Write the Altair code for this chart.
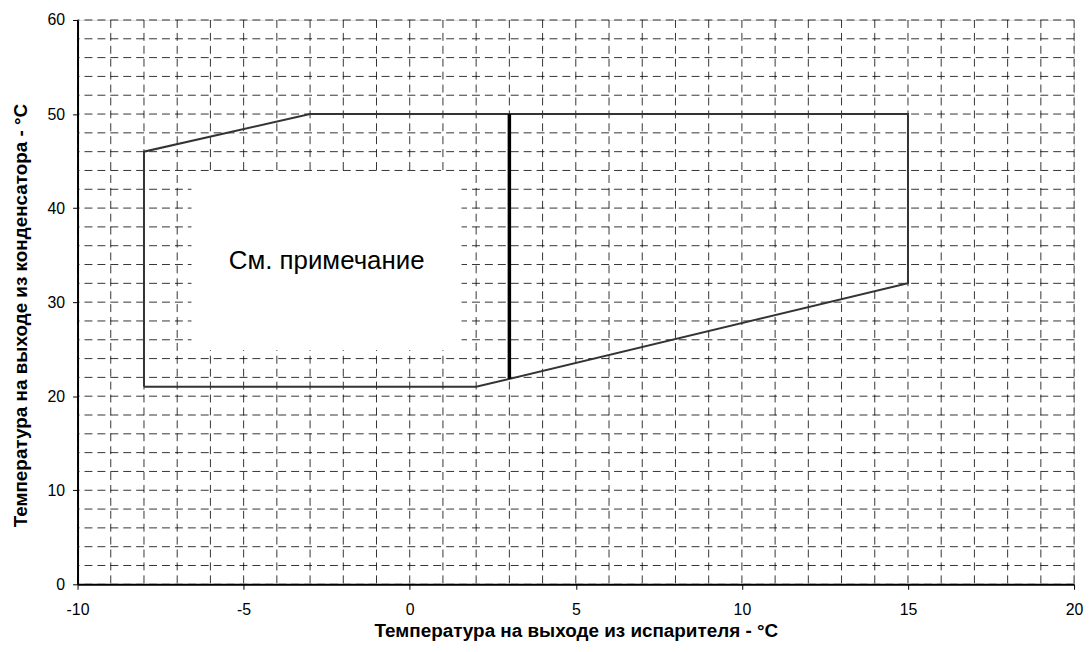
import altair as alt
import pandas as pd

# Axis ticks / labels
x_ticks = [-10, -5, 0, 5, 10, 15, 20]
y_ticks = [0, 10, 20, 30, 40, 50, 60]
# Dashed grid positions
grid_x = [-10, -9, -8, -7, -6, -5, -4, -3, -2, -1, 0, 1, 2, 3, 4, 5, 6, 7, 8, 9,
          10, 11, 12, 13, 14, 15, 16, 17, 18, 19, 20]
grid_y = [0, 2, 4, 6, 8, 10, 12, 14, 16, 18, 20, 22, 24, 26, 28, 30, 32, 34, 36,
          38, 40, 42, 44, 46, 48, 50, 52, 54, 56, 58, 60]
# Operating envelope
envelope_x = [-8, -8, -3, 15, 15, 2, -8]
envelope_y = [21, 46, 50, 50, 32, 21, 21]
# Divider line
divider_x = [3, 3]
divider_y = [21.85, 50]
# Note box (text box covering the grid)
box_x = [-6.57]
box_x2 = [1.56]
box_y = [24.9]
box_y2 = [43.7]
note_text = ["См. примечание"]
note_x = [-2.5]
note_y = [34.4]

FONT = "Liberation Sans"
xscale = alt.Scale(domain=[-10, 20], nice=False, zero=False)
yscale = alt.Scale(domain=[0, 60], nice=False, zero=False)

xaxis = alt.Axis(values=x_ticks, grid=False, tickSize=5, tickColor="black", tickWidth=1,
                 domainColor="black", domainWidth=2, labelFont=FONT, labelFontSize=16,
                 labelColor="black", labelPadding=12, labelFlush=False,
                 labelExpr="datum.value + ''",
                 title="Температура на выходе из испарителя - °C",
                 titleFont=FONT, titleFontSize=19, titleFontWeight="bold", titleColor="black",
                 titleY=47, titleBaseline="middle")
yaxis = alt.Axis(values=y_ticks, grid=False, tickSize=5, tickColor="black", tickWidth=1,
                 domainColor="black", domainWidth=2, labelFont=FONT, labelFontSize=16,
                 labelColor="black", labelPadding=8, labelFlush=False,
                 labelExpr="datum.value + ''",
                 title="Температура на выходе из конденсатора - °C",
                 titleFont=FONT, titleFontSize=19, titleFontWeight="bold", titleColor="black",
                 titleX=-57, titleY=297, titleBaseline="middle")


def X(field):
    return alt.X(field, type="quantitative", scale=xscale, axis=xaxis)


def Y(field):
    return alt.Y(field, type="quantitative", scale=yscale, axis=yaxis)


vgrid = alt.Chart(pd.DataFrame({"x": grid_x})).mark_rule(
    color="black", strokeWidth=1, strokeDash=[8, 5], opacity=0.8
).encode(x=X("x"))

hgrid = alt.Chart(pd.DataFrame({"y": grid_y})).mark_rule(
    color="black", strokeWidth=1, strokeDash=[8, 5], opacity=0.8
).encode(y=Y("y"))

box = alt.Chart(pd.DataFrame({"x": box_x, "x2": box_x2, "y": box_y, "y2": box_y2})).mark_rect(
    fill="white"
).encode(x=X("x"), x2="x2", y=Y("y"), y2="y2")

env = alt.Chart(pd.DataFrame({"x": envelope_x, "y": envelope_y,
                              "o": list(range(len(envelope_x)))})).mark_line(
    color="#333333", strokeWidth=2
).encode(x=X("x"), y=Y("y"), order="o:Q")

div = alt.Chart(pd.DataFrame({"x": divider_x, "y": divider_y})).mark_line(
    color="black", strokeWidth=3.5
).encode(x=X("x"), y=Y("y"))

txt = alt.Chart(pd.DataFrame({"x": note_x, "y": note_y, "t": note_text})).mark_text(
    font=FONT, fontSize=26, color="black", align="center", baseline="middle"
).encode(x=X("x"), y=Y("y"), text="t:N")

chart = alt.layer(vgrid, hgrid, box, env, div, txt).properties(
    width=1003, height=568,
    autosize=alt.AutoSizeParams(type="none"),
    padding={"left": 70, "top": 10, "right": 10, "bottom": 55},
).configure_view(stroke="black", strokeWidth=2).configure(background="white")

chart.save("out.html", embed_options={"renderer": "svg", "actions": False})
